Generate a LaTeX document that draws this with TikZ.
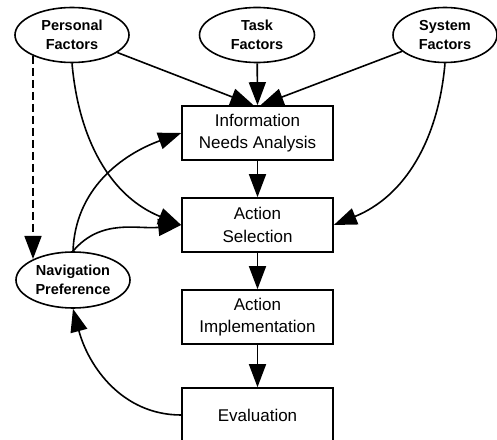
\documentclass[tikz,border=0pt]{standalone}
\usepackage{fontspec}
\setmainfont{Liberation Sans}
\usetikzlibrary{arrows.meta,shapes.geometric}
\begin{document}
\begin{tikzpicture}[x=1pt,y=1pt,
  line width=1.6pt,
  factor/.style={draw,ellipse,align=center,inner sep=0pt,
    font=\fontsize{14.5}{19.5}\selectfont\bfseries},
  stage/.style={draw,rectangle,align=center,inner sep=0pt,
    minimum width=151pt,minimum height=54pt,
    font=\fontsize{17}{22.5}\selectfont},
  flow/.style={-{Triangle[length=23pt 0 0,width=17pt 0 0]}},
  hint/.style={flow,dash pattern=on 8pt off 4pt}]
\useasboundingbox (0,0) rectangle (497,439);
\clip (0,0) rectangle (497,439);

% influencing factors
\node[factor,minimum width=114pt,minimum height=55pt] (pf) at (72,404) {Personal\\Factors};
\node[factor,minimum width=115pt,minimum height=55pt] (tf) at (257,404) {Task\\Factors};
\node[factor,minimum width=104pt,minimum height=55pt] (sf) at (445,404) {System\\Factors};
\node[factor,minimum width=114pt,minimum height=56pt] (nav) at (73,159) {Navigation\\Preference};

% process stages
\node[stage] (info) at (257.5,306) {Information\\Needs Analysis};
\node[stage] (as) at (257.5,214) {Action\\Selection};
\node[stage] (ai) at (257.5,122) {Action\\Implementation};
\node[stage] (ev) at (257.5,24) {Evaluation};

% end points of the dashed link
\coordinate (dstart) at (33,383);
\coordinate (dend) at (33,180);

% factors feeding the analysis stage
\draw[flow] (pf) -- ([xshift=-4pt]info.north);
\draw[flow] (tf) -- (info.north);
\draw[flow] (sf) -- ([xshift=3pt]info.north);

% main sequence
\draw[flow] (info) -- (as);
\draw[flow] (as) -- (ai);
\draw[flow] (ai) -- (ev);

% curved influences
\draw[flow] (pf.south) to[out=-85,in=158] (as.west);
\draw[flow] (sf.south) to[out=-95,in=22] (as.east);
\draw[flow] (nav.north) to[out=88,in=200] (info.west);
\draw[flow] (nav.north) to[out=50,in=186] (as.west);
\draw[flow] (ev.west) to[out=180,in=-75] (nav.south);
\draw[hint] (dstart) -- (dend);
\end{tikzpicture}
\end{document}
